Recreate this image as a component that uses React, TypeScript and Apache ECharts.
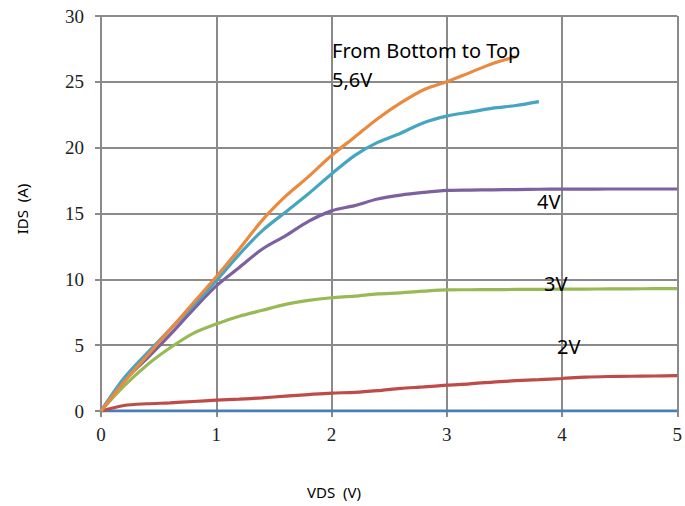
import React, { useEffect, useRef } from "react";
import * as echarts from "echarts";

const vds = [0, 0.2, 0.4, 0.6, 0.8, 1.0, 1.2, 1.4, 1.6, 1.8, 2.0, 2.2, 2.4, 2.6, 2.8, 3.0, 3.2, 3.4, 3.6, 3.8, 4.0, 4.2, 4.4, 4.6, 4.8, 5.0];

const ids1V = [0, 0, 0, 0, 0, 0, 0, 0, 0, 0, 0, 0, 0, 0, 0, 0, 0, 0, 0, 0, 0, 0, 0, 0, 0, 0];
const ids2V = [0, 0.42, 0.55, 0.62, 0.72, 0.82, 0.9, 1.0, 1.13, 1.25, 1.36, 1.42, 1.55, 1.72, 1.83, 1.96, 2.06, 2.2, 2.3, 2.38, 2.47, 2.57, 2.62, 2.64, 2.66, 2.68];
const ids3V = [0, 1.9, 3.5, 4.8, 5.9, 6.6, 7.2, 7.65, 8.1, 8.4, 8.6, 8.72, 8.9, 8.97, 9.1, 9.2, 9.21, 9.22, 9.23, 9.24, 9.25, 9.26, 9.27, 9.28, 9.29, 9.3];
const ids4V = [0, 2.3, 4.0, 5.8, 7.7, 9.5, 10.9, 12.3, 13.3, 14.4, 15.2, 15.6, 16.1, 16.4, 16.6, 16.75, 16.78, 16.8, 16.82, 16.84, 16.85, 16.85, 16.86, 16.86, 16.86, 16.86];
const ids5V = [0, 2.5, 4.4, 6.2, 8.0, 9.9, 11.9, 13.7, 15.1, 16.5, 18.0, 19.4, 20.4, 21.1, 21.9, 22.4, 22.7, 23.0, 23.2, 23.5];
const ids6V = [0, 2.2, 4.2, 6.2, 8.2, 10.2, 12.3, 14.5, 16.3, 17.8, 19.4, 20.8, 22.2, 23.4, 24.4, 25.0, 25.7, 26.4, 26.9];

const xTicks = [0, 1, 2, 3, 4, 5];
const yTicks = [0, 5, 10, 15, 20, 25, 30];

const seriesList = [
  { name: "1V", values: ids1V, color: "#4a7ebb" },
  { name: "2V", values: ids2V, color: "#be4b48" },
  { name: "3V", values: ids3V, color: "#98b954" },
  { name: "4V", values: ids4V, color: "#7d60a0" },
  { name: "5V", values: ids5V, color: "#46a5c0" },
  { name: "6V", values: ids6V, color: "#eb8a3e" },
];

const annotations = [
  { text: "From Bottom to Top", x: 332, y: 50 },
  { text: "5,6V", x: 332, y: 79 },
  { text: "4V", x: 537, y: 201 },
  { text: "3V", x: 544, y: 283 },
  { text: "2V", x: 557, y: 346 },
];

export default function App() {
  const ref = useRef<HTMLDivElement>(null);
  useEffect(() => {
    if (!ref.current) return;
    const chart = echarts.init(ref.current, null, { renderer: "svg" });
    const gridColor = "#8a8a8a";
    chart.setOption({
      animation: false,
      grid: { left: 101, right: 5, top: 16, bottom: 95, containLabel: false },
      xAxis: {
        type: "value",
        min: xTicks[0],
        max: xTicks[xTicks.length - 1],
        interval: 1,
        axisLine: { show: true, lineStyle: { color: gridColor, width: 2 } },
        axisTick: { show: true, length: 6, lineStyle: { color: gridColor, width: 2 } },
        splitLine: { show: true, lineStyle: { color: gridColor, width: 2 } },
        axisLabel: { fontFamily: "Liberation Serif", fontSize: 19, color: "#222", margin: 14 },
      },
      yAxis: {
        type: "value",
        min: yTicks[0],
        max: yTicks[yTicks.length - 1],
        interval: 5,
        axisLine: { show: true, lineStyle: { color: gridColor, width: 2 } },
        axisTick: { show: true, length: 6, lineStyle: { color: gridColor, width: 2 } },
        splitLine: { show: true, lineStyle: { color: gridColor, width: 2 } },
        axisLabel: { fontFamily: "Liberation Serif", fontSize: 19, color: "#222", margin: 17 },
      },
      series: seriesList.map((s) => ({
        name: s.name,
        type: "line",
        data: s.values.map((v, i) => [vds[i], v]),
        smooth: 0.3,
        showSymbol: false,
        lineStyle: { color: s.color, width: 3.2 },
        itemStyle: { color: s.color },
      })),
      graphic: [
        {
          type: "text",
          x: 22,
          y: 209,
          rotation: Math.PI / 2,
          style: { text: "IDS  (A)", fontFamily: "Noto Sans", fontSize: 15, fill: "#000", align: "center", verticalAlign: "middle" },
        },
        {
          type: "text",
          x: 334,
          y: 492,
          style: { text: "VDS  (V)", fontFamily: "Noto Sans", fontSize: 15, fill: "#000", align: "center", verticalAlign: "middle" },
        },
        ...annotations.map((a) => ({
          type: "text",
          x: a.x,
          y: a.y,
          z: 100,
          style: { text: a.text, fontFamily: "Noto Sans", fontSize: 20, fill: "#000", align: "left", verticalAlign: "middle" },
        })),
      ],
    });
    return () => chart.dispose();
  }, []);
  return <div ref={ref} style={{ width: 685, height: 506, position: "absolute", left: 0, top: 0 }} />;
}
